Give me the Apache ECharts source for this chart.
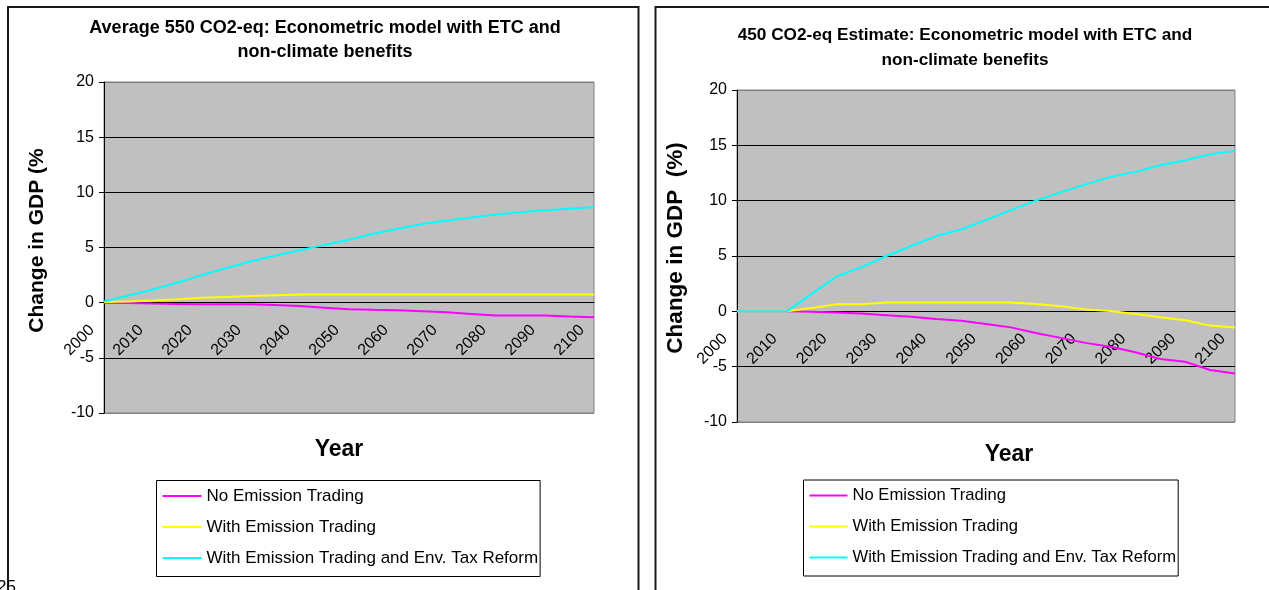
<!DOCTYPE html>
<html>
<head>
<meta charset="utf-8">
<script src="https://cdn.jsdelivr.net/npm/echarts@6/dist/echarts.min.js"></script>
<style>
  html, body { margin: 0; padding: 0; background: #fff; }
  #chart { width: 1269px; height: 590px; }
</style>
</head>
<body>
<div id="chart"></div>
<script>
// Five-year steps, 2000 to 2100; every second year is labelled on the axis
const years = ['2000','2005','2010','2015','2020','2025','2030','2035','2040','2045','2050',
               '2055','2060','2065','2070','2075','2080','2085','2090','2095','2100'];
const seriesNames = ['No Emission Trading', 'With Emission Trading',
                     'With Emission Trading and Env. Tax Reform'];
const seriesColors = ['#ff00ff', '#ffff00', '#00ffff'];

// Average 550 CO2-eq scenario, change in GDP (%)
const avg550NoTrading   = [0, -0.04, -0.08, -0.11, -0.15, -0.15, -0.15, -0.22, -0.3, -0.45, -0.6,
                           -0.65, -0.69, -0.78, -0.87, -1.02, -1.17, -1.17, -1.17, -1.25, -1.32];
const avg550WithTrading = [0.05, 0.1, 0.2, 0.32, 0.45, 0.52, 0.6, 0.68, 0.75, 0.75, 0.75,
                           0.75, 0.75, 0.75, 0.75, 0.75, 0.75, 0.75, 0.75, 0.75, 0.75];
const avg550TaxReform   = [0.1, 0.65, 1.2, 1.83, 2.5, 3.15, 3.75, 4.28, 4.75, 5.24, 5.71,
                           6.25, 6.7, 7.13, 7.44, 7.71, 7.99, 8.2, 8.38, 8.52, 8.66];

// 450 CO2-eq estimate, change in GDP (%)
const est450NoTrading   = [0, 0, 0, -0.03, -0.1, -0.2, -0.35, -0.5, -0.7, -0.85, -1.15,
                           -1.45, -1.95, -2.4, -2.85, -3.2, -3.7, -4.3, -4.55, -5.3, -5.62];
const est450WithTrading = [0, 0, 0, 0.3, 0.63, 0.63, 0.8, 0.8, 0.8, 0.8, 0.8,
                           0.8, 0.66, 0.47, 0.17, 0.04, -0.24, -0.54, -0.81, -1.29, -1.47];
const est450TaxReform   = [0, 0, 0, 1.58, 3.15, 4.0, 5.0, 5.9, 6.8, 7.4, 8.25,
                           9.15, 10.0, 10.75, 11.47, 12.15, 12.6, 13.2, 13.65, 14.2, 14.5];

const yMin = -10, yMax = 20, yStep = 5;

const leftTitle  = 'Average 550 CO2-eq: Econometric model with ETC and\nnon-climate benefits';
const rightTitle = '450 CO2-eq Estimate: Econometric model with ETC and\nnon-climate benefits';
const leftYName  = 'Change in GDP (%';
const rightYName = 'Change in GDP  (%)';
const xName = 'Year';

const FONT = '"Liberation Sans", Arial, sans-serif';

// plot rectangles of the two panels
const leftPlot  = { left: 104, top: 82, width: 490, height: 331 };
const rightPlot = { left: 737, top: 90, width: 498, height: 332 };

function makeGrid(p) {
  return {
    left: p.left, top: p.top, width: p.width, height: p.height,
    show: true, backgroundColor: '#c0c0c0',
    borderColor: '#808080', borderWidth: 1,
    outerBoundsMode: 'none', containLabel: false
  };
}

// the category axis crosses the value axis at 0: shift it up from the plot bottom
function zeroOffset(p) {
  return -p.height * (0 - yMin) / (yMax - yMin);
}

function makeXAxis(gridIndex, p) {
  return {
    type: 'category', gridIndex: gridIndex, data: years, boundaryGap: false,
    position: 'bottom', offset: zeroOffset(p),
    axisLine: { show: true, onZero: false, lineStyle: { color: '#000', width: 1 } },
    axisTick: { show: false },
    splitLine: { show: false },
    axisLabel: {
      interval: 1, rotate: 45, fontSize: 16, color: '#000', fontFamily: FONT,
      margin: 13, padding: [0, 17, 0, 0], hideOverlap: false
    }
  };
}

function makeYAxis(gridIndex) {
  return {
    type: 'value', gridIndex: gridIndex, min: yMin, max: yMax, interval: yStep,
    axisLine: { show: true, onZero: false, lineStyle: { color: '#000', width: 1 } },
    axisTick: { show: true, length: 5, inside: false, lineStyle: { color: '#000' } },
    axisLabel: { fontSize: 16, color: '#000', fontFamily: FONT, margin: 10 },
    splitLine: {
      show: true,
      lineStyle: { width: 1, color: ['#808080', '#000', '#000', '#000', '#000', '#000', '#808080'] }
    }
  };
}

function makeSeries(name, data, color, idx) {
  return {
    name: name, type: 'line', data: data,
    xAxisIndex: idx, yAxisIndex: idx,
    showSymbol: false, symbol: 'none', smooth: false,
    lineStyle: { width: 2, color: color },
    itemStyle: { color: color },
    emphasis: { disabled: true },
    animation: false
  };
}

function makeLegend(left, top, fontSize, iconWidth) {
  return {
    orient: 'vertical', left: left, top: top,
    padding: [7, 2, 10, 6], itemGap: 14,
    itemWidth: iconWidth, itemHeight: 2, icon: 'rect',
    borderColor: '#000', borderWidth: 1, backgroundColor: '#fff',
    selectedMode: false,
    textStyle: { fontSize: fontSize, color: '#000', fontFamily: FONT },
    data: seriesNames
  };
}

function text(x, y, str, font, extra) {
  return Object.assign({
    type: 'text', x: x, y: y, silent: true,
    style: Object.assign({ text: str, font: font, fill: '#000',
                           textAlign: 'center', textVerticalAlign: 'middle' }, extra || {})
  });
}

const chart = echarts.init(document.getElementById('chart'), null, { renderer: 'canvas' });

chart.setOption({
  animation: false,
  backgroundColor: '#fff',
  textStyle: { fontFamily: FONT },
  grid: [makeGrid(leftPlot), makeGrid(rightPlot)],
  xAxis: [makeXAxis(0, leftPlot), makeXAxis(1, rightPlot)],
  yAxis: [makeYAxis(0), makeYAxis(1)],
  legend: [
    makeLegend(156.5, 480.5, 17, 39),
    makeLegend(803.5, 480, 16.6, 38)
  ],
  series: [
    makeSeries(seriesNames[0], avg550NoTrading, seriesColors[0], 0),
    makeSeries(seriesNames[1], avg550WithTrading, seriesColors[1], 0),
    makeSeries(seriesNames[2], avg550TaxReform, seriesColors[2], 0),
    makeSeries(seriesNames[0], est450NoTrading, seriesColors[0], 1),
    makeSeries(seriesNames[1], est450WithTrading, seriesColors[1], 1),
    makeSeries(seriesNames[2], est450TaxReform, seriesColors[2], 1)
  ],
  graphic: [
    // panel frames
    { type: 'rect', silent: true, z: -1,
      shape: { x: 8, y: 7, width: 630.5, height: 700 },
      style: { fill: null, stroke: '#1a1a1a', lineWidth: 2 } },
    { type: 'rect', silent: true, z: -1,
      shape: { x: 655.5, y: 7, width: 700, height: 700 },
      style: { fill: null, stroke: '#1a1a1a', lineWidth: 2 } },
    // chart titles
    { type: 'text', x: 325, y: 16.3, silent: true,
      style: { text: leftTitle, font: 'bold 18px ' + FONT, fill: '#000',
               textAlign: 'center', textVerticalAlign: 'top', lineHeight: 24 } },
    { type: 'text', x: 965, y: 22.5, silent: true,
      style: { text: rightTitle, font: 'bold 17.2px ' + FONT, fill: '#000',
               textAlign: 'center', textVerticalAlign: 'top', lineHeight: 25 } },
    // axis titles
    Object.assign(text(37, 240.5, leftYName, 'bold 21px ' + FONT), { rotation: Math.PI / 2 }),
    Object.assign(text(676, 248, rightYName, 'bold 22.5px ' + FONT), { rotation: Math.PI / 2 }),
    text(339, 450, xName, 'bold 23px ' + FONT),
    text(1009, 455, xName, 'bold 23px ' + FONT),
    // page number at the foot of the page
    { type: 'text', x: -3, y: 579, silent: true,
      style: { text: '25', font: '17px ' + FONT, fill: '#000',
               textAlign: 'left', textVerticalAlign: 'top' } }
  ]
});
</script>
</body>
</html>
